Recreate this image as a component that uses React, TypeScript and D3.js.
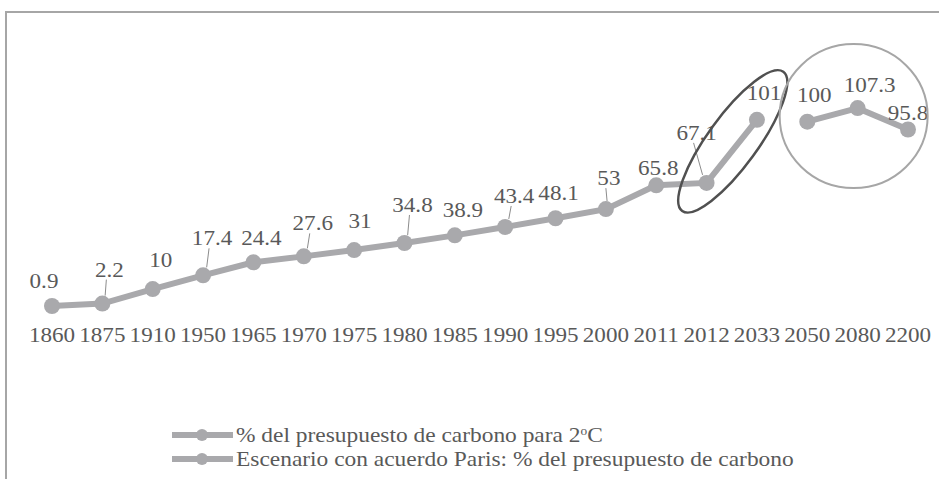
import React from 'react';
import * as d3 from 'd3';

const years = ['1860', '1875', '1910', '1950', '1965', '1970', '1975', '1980', '1985', '1990', '1995', '2000', '2011', '2012', '2033', '2050', '2080', '2200'];
// % del presupuesto de carbono para 2ºC (1860-2033)
const budgetValues = [0.9, 2.2, 10, 17.4, 24.4, 27.6, 31, 34.8, 38.9, 43.4, 48.1, 53, 65.8, 67.1, 101];
// Escenario con acuerdo Paris (2050-2200)
const parisYears = ['2050', '2080', '2200'];
const parisValues = [100, 107.3, 95.8];
const legendLabels = ['% del presupuesto de carbono para 2', 'Escenario con acuerdo Paris: % del presupuesto de carbono'];

// label offsets (dx, dy to baseline) and whether a leader line is drawn
const labelOffsets: [number, number, boolean][] = [
  [-8, -18, false], [7, -27, true], [8, -22, false], [9, -30, true], [8, -17, false],
  [9, -26, true], [6, -22, false], [8, -31, true], [8, -18, false], [9, -24, true],
  [3, -18, false], [3, -24, true], [2, -10, false], [-10, -43, true], [7, -20, false],
  [7, -20, false], [12, -16, false], [0, -10, false],
];

const W = 939;
const H = 479;
const lineColor = '#a9a9ac';
const textColor = '#595959';
const fontStyle = { fontFamily: "'Liberation Serif', 'Times New Roman', Times, serif" };
const stretch = 1.1; // the source text is a little wider than Liberation Serif

function WideText(props: { x: number; y: number; size: number; sx?: number; anchor?: string; children: React.ReactNode }) {
  const { x, y, size, sx = stretch, anchor = 'middle', children } = props;
  return (
    <text
      transform={`translate(${x},${y}) scale(${sx},1)`}
      textAnchor={anchor}
      fontSize={size}
      fill={textColor}
      style={fontStyle}
    >
      {children}
    </text>
  );
}

export default function App() {
  const x = d3.scalePoint<string>().domain(years).range([52, 908]);
  const y = d3.scaleLinear().domain([0, 120]).range([307.7, 84.5]);

  const pts1 = budgetValues.map((v, i) => ({ year: years[i], v }));
  const pts2 = parisValues.map((v, i) => ({ year: parisYears[i], v }));
  const all = [...pts1, ...pts2];

  const line = d3
    .line<{ year: string; v: number }>()
    .x((d) => x(d.year)!)
    .y((d) => y(d.v));

  // highlight shapes
  const a = pts1[13];
  const b = pts1[14];
  const ex = (x(a.year)! + x(b.year)!) / 2 + 1;
  const ey = (y(a.v) + y(b.v)) / 2 - 10;
  const c = pts2[1];
  const cx = x(c.year)! - 4;
  const cy = y(c.v) + 8;

  return (
    <svg width={W} height={H} style={{ position: 'absolute', left: 0, top: 0, background: '#fff' }}>
      <rect x={0} y={0} width={W} height={H} fill="#fff" />
      <path d={`M6,${H} V12 H${W}`} fill="none" stroke="#a6a6a6" strokeWidth={2} />

      <path d={line(pts1) || ''} fill="none" stroke={lineColor} strokeWidth={6} />
      <path d={line(pts2) || ''} fill="none" stroke={lineColor} strokeWidth={6} />
      {all.map((d, i) => (
        <circle key={'p' + i} cx={x(d.year)} cy={y(d.v)} r={8} fill={lineColor} />
      ))}

      {all.map((d, i) => {
        const px = x(d.year)!;
        const py = y(d.v);
        const [dx, dy, leader] = labelOffsets[i];
        const lx = px + dx;
        const by = py + dy;
        return (
          <g key={'l' + i}>
            {leader && (
              <line x1={lx - 3} y1={by + 3} x2={px + dx * 0.4} y2={py - 8} stroke="#8c8c8c" strokeWidth={1} />
            )}
            <WideText x={lx} y={by} size={21}>
              {String(d.v)}
            </WideText>
          </g>
        );
      })}

      {years.map((yr) => (
        <WideText key={yr} x={x(yr)!} y={342} size={21}>
          {yr}
        </WideText>
      ))}

      <ellipse
        cx={ex}
        cy={ey}
        rx={86}
        ry={25}
        transform={`rotate(-54 ${ex} ${ey})`}
        fill="none"
        stroke="#505050"
        strokeWidth={2.5}
      />
      <ellipse cx={cx} cy={cy} rx={74} ry={72} fill="none" stroke="#a6a6a6" strokeWidth={2} />

      {legendLabels.map((lab, i) => {
        const ly = 435 + i * 24;
        return (
          <g key={lab}>
            <line x1={172} x2={233} y1={ly} y2={ly} stroke={lineColor} strokeWidth={6} />
            <circle cx={202} cy={ly} r={6} fill={lineColor} />
            <WideText x={236} y={ly + 7} size={21} sx={1.115} anchor="start">
              {lab}
              {i === 0 && (
                <>
                  <tspan fontSize={12} dy={-7}>o</tspan>
                  <tspan dy={7}>C</tspan>
                </>
              )}
            </WideText>
          </g>
        );
      })}
    </svg>
  );
}
